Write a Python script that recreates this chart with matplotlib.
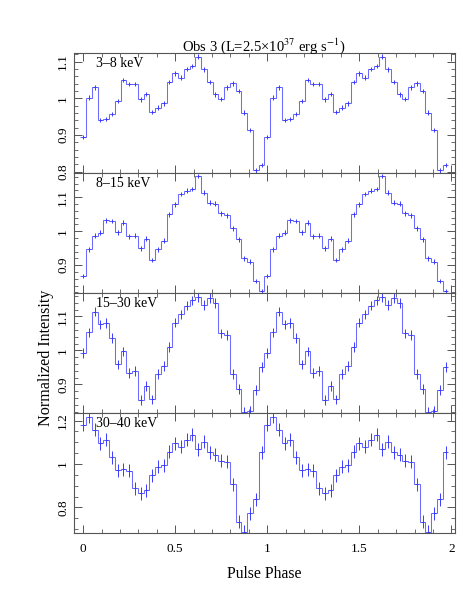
import numpy as np
import matplotlib
matplotlib.use("Agg")
import matplotlib.pyplot as plt
from matplotlib.ticker import MultipleLocator

plt.rcParams['font.family'] = ['Liberation Serif', 'DejaVu Serif']
plt.rcParams['mathtext.fontset'] = 'stix'

# one pulse cycle, 32 bins; the figure shows it twice
N_BINS = 32
BANDS = ["3\u20138 keV", "8\u201315 keV", "15\u201330 keV", "30\u201340 keV"]

prof_3_8 = [0.894, 1.002, 1.030, 0.941, 0.943, 0.957, 0.993, 1.050,
            1.039, 1.039, 0.997, 1.012, 0.963, 0.975, 0.986, 1.045,
            1.068, 1.057, 1.080, 1.088, 1.114, 1.079, 1.044, 1.011,
            0.998, 1.030, 1.041, 1.020, 0.961, 0.914, 0.803, 0.818]
prof_8_15 = [0.868, 0.946, 0.987, 0.995, 1.032, 1.030, 0.996, 1.025,
             0.985, 0.987, 0.950, 0.978, 0.915, 0.947, 0.972, 1.049,
             1.079, 1.109, 1.119, 1.124, 1.162, 1.113, 1.084, 1.081,
             1.052, 1.047, 1.008, 0.976, 0.920, 0.910, 0.853, 0.824]
prof_15_30 = [0.992, 1.053, 1.114, 1.077, 1.080, 1.036, 0.959, 0.997,
              0.933, 0.940, 0.854, 0.896, 0.856, 0.930, 0.955, 1.010,
              1.082, 1.106, 1.132, 1.147, 1.156, 1.134, 1.155, 1.139,
              1.050, 1.046, 0.930, 0.887, 0.820, 0.822, 0.884, 0.952]
prof_30_40 = [1.180, 1.218, 1.157, 1.095, 1.111, 1.031, 0.972, 0.975,
              0.968, 0.888, 0.865, 0.880, 0.949, 0.988, 0.995, 1.057,
              1.095, 1.080, 1.111, 1.134, 1.069, 1.103, 1.054, 1.042,
              1.014, 1.011, 0.906, 0.734, 0.688, 0.772, 0.837, 1.054]
PROFILES = [prof_3_8, prof_8_15, prof_15_30, prof_30_40]
ERRS = [0.006, 0.007, 0.014, 0.03]

YLIMS = [(0.796, 1.124), (0.818, 1.171), (0.816, 1.169), (0.682, 1.235)]
YMAJOR = [0.1, 0.1, 0.1, 0.2]
YMINOR = [0.02, 0.02, 0.02, 0.05]

LINE_C = "#6c6cff"
ERR_C = "#3a3aff"
AX_C = "#555555"

fig = plt.figure(figsize=(4.63, 6.07), dpi=100)
left, right = 74 / 463, 455 / 463
top, bot = 1 - 53 / 607, 1 - 533 / 607
h = (top - bot) / 4

edges = (np.arange(2 * N_BINS + 1) - 0.5) / N_BINS
centers = np.arange(2 * N_BINS) / N_BINS

axes = []
for i, (prof, band) in enumerate(zip(PROFILES, BANDS)):
    ax = fig.add_axes([left, top - (i + 1) * h, right - left, h])
    vals = np.tile(prof, 2)
    ax.stairs(vals, edges, baseline=None, color=LINE_C, lw=0.75)
    ax.errorbar(centers, vals, yerr=ERRS[i], xerr=0.25 / N_BINS,
                fmt='none', ecolor=ERR_C, elinewidth=0.7, capsize=0)
    ax.set_xlim(-0.05, 2.02)
    ax.set_ylim(*YLIMS[i])
    ax.xaxis.set_major_locator(MultipleLocator(0.5))
    ax.xaxis.set_minor_locator(MultipleLocator(0.1))
    ax.yaxis.set_major_locator(MultipleLocator(YMAJOR[i]))
    ax.yaxis.set_minor_locator(MultipleLocator(YMINOR[i]))
    ax.tick_params(which='both', direction='in', top=True, right=True,
                   color=AX_C, labelsize=9.5)
    ax.tick_params(which='major', length=6, width=0.7)
    ax.tick_params(which='minor', length=3, width=0.6)
    for sp in ax.spines.values():
        sp.set_color(AX_C)
        sp.set_linewidth(0.8)
    ax.yaxis.set_major_formatter(plt.FuncFormatter(lambda v, p: f"{v:g}"))
    for lab in ax.get_yticklabels():
        lab.set_rotation(90)
        lab.set_va('center')
    if i < 3:
        ax.tick_params(labelbottom=False)
    else:
        ax.xaxis.set_major_formatter(plt.FuncFormatter(lambda v, p: f"{v:g}"))
        ax.tick_params(axis='x', pad=7)
    ax.text(0.058, 0.91, band, transform=ax.transAxes, fontsize=10,
            ha='left', va='center')
    axes.append(ax)

axes[-1].set_xlabel("Pulse Phase", fontsize=11.3, labelpad=8)
fig.text(46.5 / 463, 1 - 358 / 607, "Normalized Intensity", rotation=90,
         ha='center', va='center', fontsize=11.6)
fig.text(264 / 463, 1 - 46 / 607,
         "Obs 3 (L=2.5\u00d710$^{37}$ erg s$^{-1}$)",
         ha='center', va='center', fontsize=10.5)

fig.savefig("out.png", dpi=100)
